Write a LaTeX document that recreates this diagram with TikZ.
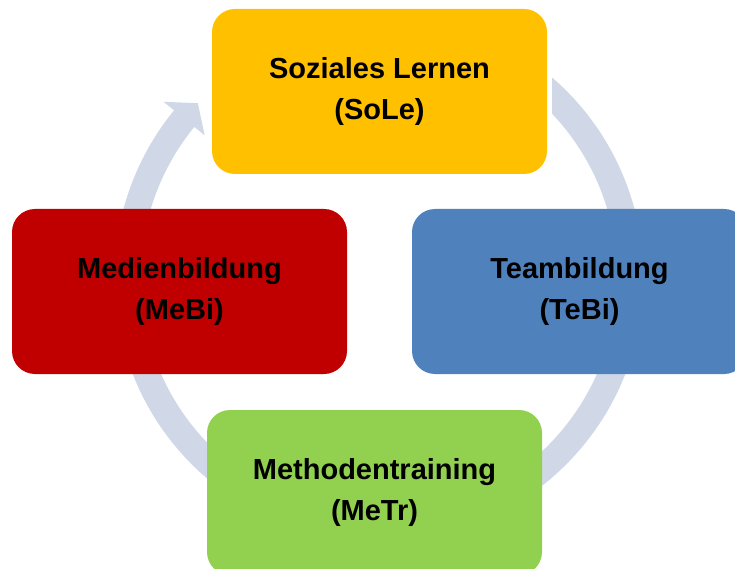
\documentclass[tikz,border=0pt]{standalone}
\usepackage{fontspec}
\setmainfont{Liberation Sans}
\usetikzlibrary{calc}

\definecolor{ringblue}{HTML}{D0D8E8}
\definecolor{solegold}{HTML}{FFC000}
\definecolor{tebiblue}{HTML}{4F81BD}
\definecolor{metrgreen}{HTML}{92D050}
\definecolor{mebired}{HTML}{C00000}

\begin{document}
\begin{tikzpicture}[x=1pt,y=1pt,
  box/.style={rounded corners=23pt, minimum width=335pt, minimum height=165pt,
    inner sep=0pt, align=center, text=black,
    font=\fontsize{29}{41.5}\selectfont\bfseries}]

\useasboundingbox (0,0) rectangle (735,568);
\clip (0,0) rectangle (735,568);

% ring with arrow head
\coordinate (c) at (379,290.5);
\fill[ringblue] ($(c)+(43.45:238.3)$) -- ($(c)+(49.15:264.5)$)
  arc[start angle=49.15, end angle=-219.2, radius=264.5]
  -- ($(c)+(140.8:278)$) -- ($(c)+(136.1:251.4)$) -- ($(c)+(140.8:225)$)
  -- ($(c)+(140.8:238.3)$)
  arc[start angle=-219.2, end angle=43.45, radius=238.3] -- cycle;

% boxes
\node[box, fill=solegold] (sole) at (379.5,476.5) {Soziales Lernen\\(SoLe)};
\node[box, fill=tebiblue] (tebi) at (579.5,276.5) {Teambildung\\(TeBi)};
\node[box, fill=metrgreen] (metr) at (374.5,75.5) {Methodentraining\\(MeTr)};
\node[box, fill=mebired] (mebi) at (179.5,276.5) {Medienbildung\\(MeBi)};

\end{tikzpicture}
\end{document}
